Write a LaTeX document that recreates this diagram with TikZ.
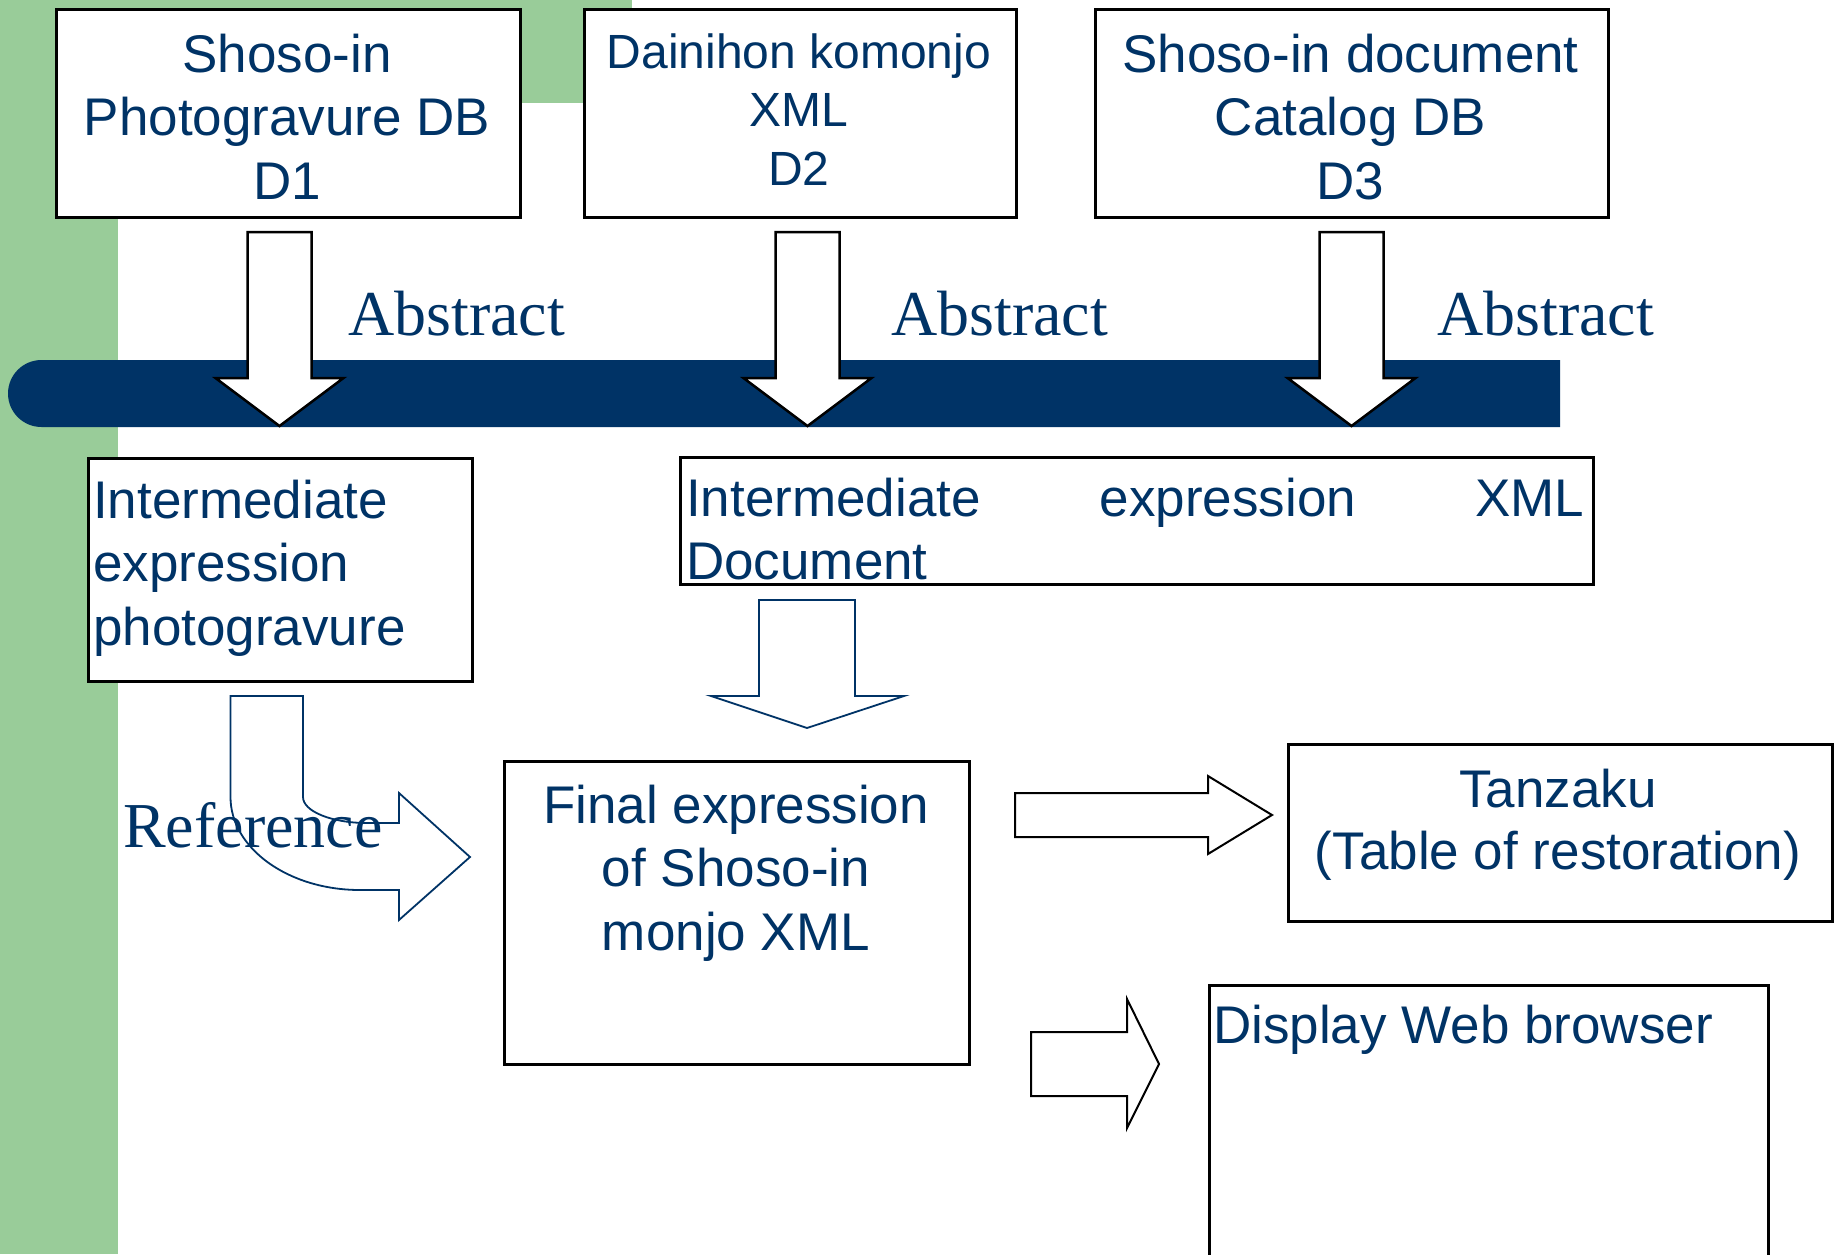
\documentclass[tikz,border=0pt]{standalone}
\usepackage{fontspec}
\setmainfont{Liberation Sans}
\newfontfamily\abstractfont{Liberation Serif}
\definecolor{bnavy}{HTML}{003366}
\definecolor{bggreen}{HTML}{99CC99}
\begin{document}
\begin{tikzpicture}[x=1bp,y=-1bp,
  box/.style={draw=black, line width=2.5bp, fill=white, rectangle, inner sep=0pt, anchor=north west},
  lbl/.style={text=bnavy, inner sep=0pt, font={\fontsize{53bp}{63.5bp}\selectfont}},
  lblsmall/.style={text=bnavy, inner sep=0pt, font={\fontsize{48bp}{58.5bp}\selectfont}},
  abs/.style={text=bnavy, inner sep=0pt, anchor=base west, font={\abstractfont\fontsize{64bp}{70bp}\selectfont}},
  blockdown/.style={draw=black, line width=2.5bp, fill=white, line join=miter},
  navyarrow/.style={draw=bnavy, line width=1.8bp, line join=miter},
  rarrow/.style={draw=black, line width=2bp, fill=white, line join=miter}]
\useasboundingbox (0,0) rectangle (1835,1254);
\clip (0,0) rectangle (1835,1254);
\fill[white] (0,0) rectangle (1835,1254);
% green background
\fill[bggreen] (0,0) rectangle (118,1254);
\fill[bggreen] (0,0) rectangle (632,103);
% navy bar
\fill[bnavy] (1560,360) -- (41.5,360) arc[start angle=270, end angle=90, radius=33.5] -- (1560,427) -- cycle;
% top boxes
\node[box, minimum width=464bp, minimum height=208bp] (d1) at (55,8) {};
\node[box, minimum width=432bp, minimum height=208bp] (d2) at (583,8) {};
\node[box, minimum width=513bp, minimum height=208bp] (d3) at (1094,8) {};
\node[lbl, align=center, anchor=north] (d1t) at (287,32) {\rule{0pt}{40bp}Shoso-in\\Photogravure DB\\D1};
\node[lblsmall, align=center, anchor=north] (d2t) at (799,28) {\rule{0pt}{40bp}Dainihon komonjo\\XML\\D2};
\node[lbl, align=center, anchor=north] (d3t) at (1350.5,32) {\rule{0pt}{40bp}Shoso-in document\\Catalog DB\\D3};
% abstract arrows
\foreach \cx/\nm in {279.5/a1, 807.5/a2, 1351.5/a3}{
  \draw[blockdown] (\cx-32,232) coordinate (\nm) -- (\cx+32,232) -- (\cx+32,378) -- (\cx+64,378) -- (\cx,426) coordinate (\nm tip) -- (\cx-64,378) -- (\cx-32,378) -- cycle;
}
\node[abs] (ab1) at (348,335) {Abstract};
\node[abs] (ab2) at (891,335) {Abstract};
\node[abs] (ab3) at (1437,335) {Abstract};
% intermediate boxes
\node[box, minimum width=384bp, minimum height=223bp] (im1) at (87,457) {};
\node[lbl, align=left, anchor=north west] (im1t) at (93,478) {\rule{0pt}{40bp}Intermediate\\expression\\photogravure};
\node[box, minimum width=913bp, minimum height=127bp] (im2) at (679,456) {};
\node[lbl, align=left, anchor=north west, text width=898bp] (im2t) at (686,476) {\rule{0pt}{40bp}Intermediate\hfill expression\hfill XML\\Document};
% navy down arrow
\draw[navyarrow] (759,600) -- (855,600) -- (855,696) -- (904,696) -- (807,728) -- (711,696) -- (759,696) -- cycle;
% curved reference arrow
\draw[navyarrow] (230.5,696) -- (303,696) -- (303,797) arc[start angle=180, end angle=90, x radius=64, y radius=26] -- (399,823) -- (399,793) -- (470,857) -- (399,920) -- (399,890) -- (360,890) arc[start angle=90, end angle=180, x radius=129.5, y radius=93] -- cycle;
\node[abs] (ref) at (123,847) {Reference};
% final box
\node[box, minimum width=465bp, minimum height=303bp] (fin) at (503,760) {};
\node[lbl, align=center, anchor=north] (fint) at (736,783) {\rule{0pt}{40bp}Final expression\\of Shoso-in\\monjo XML};
% right arrows
\draw[rarrow] (1015,793) -- (1208,793) -- (1208,776) -- (1272,815) -- (1208,854) -- (1208,837) -- (1015,837) -- cycle;
\draw[rarrow] (1031,1032) -- (1127,1032) -- (1127,999) -- (1159,1064) -- (1127,1128) -- (1127,1096) -- (1031,1096) -- cycle;
% tanzaku
\node[box, minimum width=544bp, minimum height=177bp] (tz) at (1287,743) {};
\node[lbl, align=center, anchor=north, font={\fontsize{53bp}{62bp}\selectfont}] (tzt) at (1558,767) {\rule{0pt}{40bp}Tanzaku\\(Table of restoration)};
% display
\node[box, minimum width=559bp, minimum height=320bp] (disp) at (1208,984) {};
\node[lbl, anchor=north west] (dispt) at (1213,1003) {\rule{0pt}{40bp}Display Web browser};
\end{tikzpicture}
\end{document}
